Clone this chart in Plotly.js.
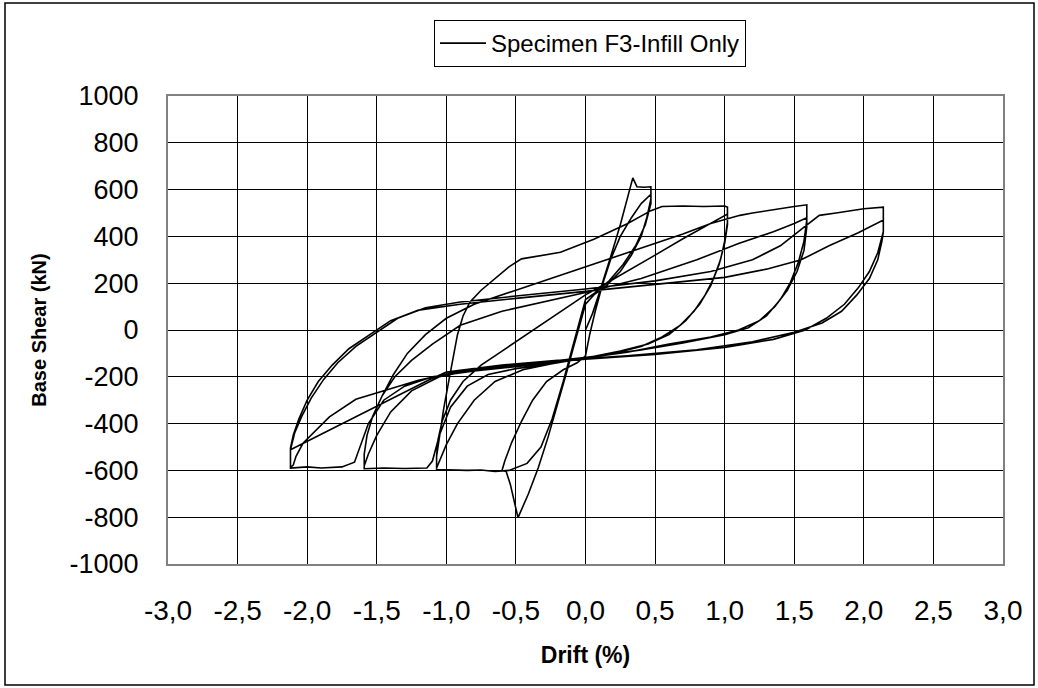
<!DOCTYPE html>
<html>
<head>
<meta charset="utf-8">
<script src="https://cdn.plot.ly/plotly-3.0.1.min.js"></script>
<style>
  html, body { margin: 0; padding: 0; background: #ffffff; }
  #chart { width: 1038px; height: 688px; }
</style>
</head>
<body>
<div id="chart"></div>
<script>
// Hysteresis record of Specimen F3 (infill only): drift (%) and base shear (kN)
const drift = [
  0.00, 0.05, 0.10, 0.15, 0.20, 0.25, 0.30, 0.34, 0.37, 0.42, 0.47, 0.47,
  0.44, 0.40, 0.33, 0.25, 0.15, 0.06, 0.00, -0.04, -0.08, -0.14, -0.20, -0.27, -0.34, -0.41, -0.485, -0.51, -0.54, -0.57, -0.60,
  -0.58, -0.53, -0.46, -0.38, -0.28, -0.16, -0.06, 0.00, 0.03, 0.07, 0.12, 0.18, 0.25, 0.33, 0.40, 0.47, 0.47,
  0.43, 0.36, 0.27, 0.17, 0.07, 0.00, -0.04, -0.09, -0.16, -0.24, -0.32, -0.42, -0.55, -0.65, -0.75, -0.85, -0.95, -1.07, -1.07,
  -1.05, -1.02, -0.98, -0.95, -0.92, -0.88, -0.83, -0.75, -0.65, -0.55, -0.46, -0.30, -0.18, 0.06, 0.30, 0.47, 0.55, 0.70, 0.85, 1.00, 1.02, 1.02,
  1.00, 0.97, 0.92, 0.86, 0.78, 0.68, 0.55, 0.40, 0.20, 0.00, -0.25, -0.45, -0.65, -0.80, -0.92, -1.00, -1.05, -1.07, -1.07,
  -1.06, -1.03, -0.97, -0.88, -0.75, -0.60, -0.45, -0.30, -0.15, 0.00, 0.15, 0.30, 0.50, 0.70, 0.85, 0.97, 1.02, 1.02,
  1.00, 0.96, 0.90, 0.82, 0.72, 0.60, 0.45, 0.25, 0.00, -0.25, -0.50, -0.70, -0.85, -0.97, -1.05, -1.10, -1.14, -1.30, -1.45, -1.59, -1.59,
  -1.57, -1.53, -1.46, -1.38, -1.28, -1.15, -1.00, -0.80, -0.50, -0.20, 0.10, 0.40, 0.70, 0.90, 1.05, 1.11, 1.20, 1.30, 1.40, 1.50, 1.59, 1.59,
  1.57, 1.53, 1.47, 1.40, 1.30, 1.17, 1.00, 0.70, 0.40, 0.10, -0.20, -0.50, -0.80, -1.05, -1.25, -1.40, -1.50, -1.56, -1.59, -1.59,
  -1.57, -1.53, -1.46, -1.37, -1.25, -1.10, -0.90, -0.60, -0.30, 0.00, 0.40, 0.80, 1.10, 1.35, 1.50, 1.59, 1.59,
  1.57, 1.52, 1.45, 1.36, 1.25, 1.10, 0.90, 0.60, 0.30, 0.00, -0.40, -0.80, -1.10, -1.30, -1.45, -1.56, -1.62, -1.66, -1.75, -1.90, -2.00, -2.12, -2.12,
  -2.09, -2.04, -1.97, -1.88, -1.78, -1.65, -1.50, -1.35, -1.15, -0.90, -0.50, 0.00, 0.50, 0.90, 1.20, 1.40, 1.55, 1.68, 1.80, 1.90, 2.00, 2.14, 2.14,
  2.10, 2.04, 1.96, 1.86, 1.73, 1.58, 1.35, 1.00, 0.50, 0.00, -0.50, -0.90, -1.20, -1.40, -1.65, -1.84, -1.96, -2.03, -2.08, -2.10, -2.12, -2.12,
  -2.10, -2.06, -2.00, -1.92, -1.82, -1.70, -1.55, -1.40, -1.20, -0.90, -0.50, 0.00, 0.50, 1.00, 1.30, 1.55, 1.75, 1.96, 2.14, 2.14,
  2.13, 2.10, 2.04, 1.95, 1.84, 1.70, 1.50, 1.20, 0.80, 0.30, -0.20, -0.60, -1.00, -1.13, -2.12, -2.12
];
const baseShear = [
  0, 70, 160, 250, 350, 450, 560, 650, 612, 610, 612, 560,
  480, 400, 320, 250, 190, 150, 110, 20, -60, -190, -320, -460, -590, -700, -802, -740, -660, -605, -600,
  -560, -480, -390, -300, -220, -170, -140, -110, -20, 80, 190, 300, 400, 480, 540, 580, 540,
  450, 360, 280, 210, 160, 130, 40, -70, -220, -380, -500, -570, -600, -605, -598, -600, -598, -596, -540,
  -460, -340, -210, -110, -20, 60, 120, 170, 220, 270, 304, 320, 332, 388, 454, 510, 528, 530, 528, 530, 525, 460,
  380, 300, 220, 150, 80, 20, -30, -70, -100, -120, -145, -170, -220, -300, -400, -490, -560, -590, -540,
  -470, -390, -300, -220, -150, -90, -30, 30, 90, 150, 200, 250, 320, 390, 440, 480, 495, 450,
  370, 280, 190, 110, 40, -20, -60, -90, -120, -145, -165, -190, -240, -330, -450, -560, -590, -592, -590, -593, -530,
  -450, -370, -280, -190, -100, -20, 50, 110, 170, 230, 290, 350, 410, 455, 480, 490, 500, 510, 520, 528, 535, 470,
  380, 290, 200, 130, 60, 10, -20, -55, -85, -110, -130, -150, -170, -200, -260, -350, -450, -530, -580, -530,
  -450, -370, -280, -200, -130, -60, 20, 80, 120, 160, 220, 300, 370, 420, 455, 480, 440,
  340, 250, 170, 100, 40, 0, -30, -60, -95, -120, -150, -175, -200, -240, -300, -400, -500, -565, -585, -590, -585, -590, -512,
  -440, -370, -290, -210, -140, -70, -10, 50, 95, 120, 145, 175, 210, 250, 300, 360, 430, 490, 500, 510, 518, 525, 420,
  330, 250, 180, 110, 50, 0, -40, -75, -105, -125, -150, -175, -215, -250, -296, -371, -440, -484, -540, -577, -587, -505,
  -450, -380, -300, -220, -150, -80, -20, 40, 85, 110, 135, 165, 195, 225, 260, 300, 360, 416, 470, 420,
  380, 300, 220, 150, 80, 30, -10, -50, -85, -110, -130, -150, -180, -215, -512, -540
];

const seriesName = 'Specimen F3-Infill Only';
const xTickVals = [-3, -2.5, -2, -1.5, -1, -0.5, 0, 0.5, 1, 1.5, 2, 2.5, 3];
const xTickText = ['-3,0', '-2,5', '-2,0', '-1,5', '-1,0', '-0,5', '0,0', '0,5', '1,0', '1,5', '2,0', '2,5', '3,0'];
const yTickVals = [-1000, -800, -600, -400, -200, 0, 200, 400, 600, 800, 1000];
const yTickText = ['-1000', '-800', '-600', '-400', '-200', '0', '200', '400', '600', '800', '1000'];

const FONT = 'Arial, "Liberation Sans", Helvetica, sans-serif';

const trace = {
  x: drift,
  y: baseShear,
  type: 'scatter',
  mode: 'lines',
  name: seriesName,
  line: { color: '#000000', width: 1.6 },
  showlegend: true
};

const L = 168, R = 35, T = 96, B = 124;
const pw = 1038 - L - R, ph = 688 - T - B;

const layout = {
  width: 1038,
  height: 688,
  margin: { l: L, r: R, t: T, b: B, pad: 0 },
  paper_bgcolor: '#ffffff',
  plot_bgcolor: '#ffffff',
  font: { family: FONT, color: '#000000' },
  showlegend: true,
  legend: {
    x: (434 - L) / pw,
    y: (564 - 20) / ph,
    xanchor: 'left',
    yanchor: 'top',
    bgcolor: '#ffffff',
    bordercolor: '#000000',
    borderwidth: 1,
    itemwidth: 46,
    font: { family: FONT, size: 24, color: '#000000' }
  },
  xaxis: {
    range: [-3, 3],
    tickmode: 'array',
    tickvals: xTickVals,
    ticktext: xTickText,
    ticks: '',
    ticklabelstandoff: 20,
    tickfont: { family: FONT, size: 28, color: '#000000' },
    showgrid: true,
    gridcolor: '#000000',
    gridwidth: 1,
    zeroline: false,
    showline: true,
    linecolor: '#808080',
    linewidth: 2,
    mirror: true,
    automargin: false,
    title: { text: '<b>Drift (%)</b>', font: { family: FONT, size: 23, color: '#000000' }, standoff: 22 }
  },
  yaxis: {
    range: [-1000, 1000],
    tickmode: 'array',
    tickvals: yTickVals,
    ticktext: yTickText,
    ticks: '',
    ticklabelstandoff: 22,
    tickfont: { family: FONT, size: 27, color: '#000000' },
    showgrid: true,
    gridcolor: '#000000',
    gridwidth: 1,
    zeroline: false,
    showline: true,
    linecolor: '#808080',
    linewidth: 2,
    mirror: true,
    automargin: false,
    title: { text: '<b>Base Shear (kN)</b>', font: { family: FONT, size: 20, color: '#000000' }, standoff: 18 }
  },
  shapes: [{
    type: 'rect',
    xref: 'paper', yref: 'paper',
    x0: (5 - L) / pw, x1: (1034 - L) / pw,
    y0: (564 - 685) / ph, y1: (564 - 3) / ph,
    line: { color: '#000000', width: 1.5 },
    fillcolor: 'rgba(0,0,0,0)',
    layer: 'below'
  }]
};

Plotly.newPlot('chart', [trace], layout, { displayModeBar: false, staticPlot: true });
</script>
</body>
</html>
